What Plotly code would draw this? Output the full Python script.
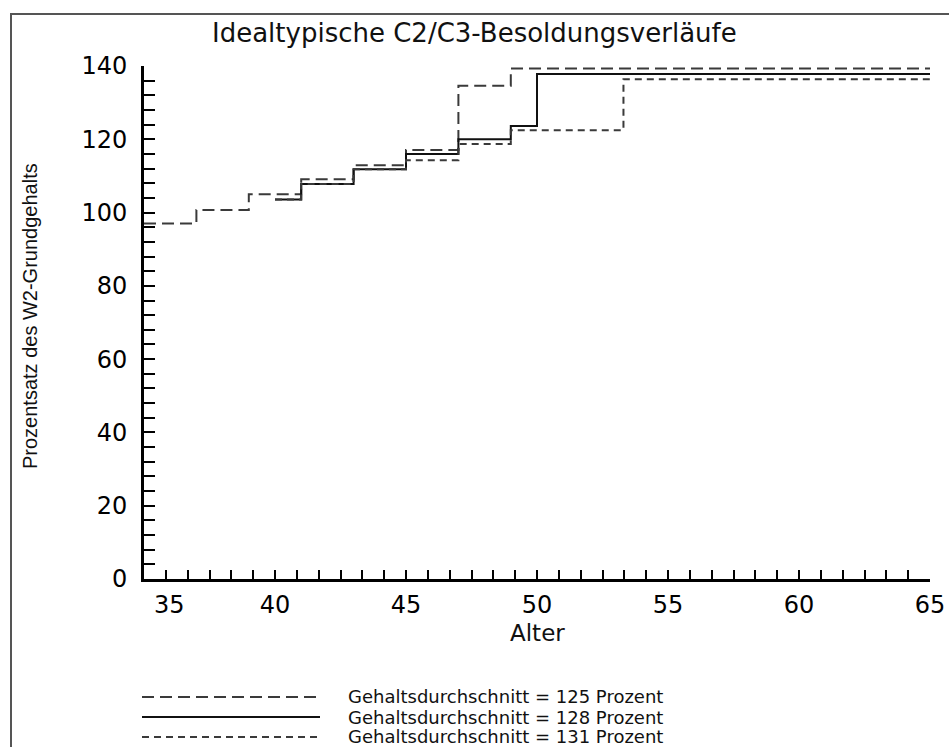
import plotly.graph_objects as go

# ---- data ----
age_125 = [35, 37, 39, 41, 43, 45, 47, 49, 65]
pct_125 = [97, 100.7, 105, 109.1, 112.9, 117.1, 134.6, 139.3, 139.3]

age_128 = [40, 41, 43, 45, 47, 49, 50, 65]
pct_128 = [103.6, 107.8, 111.8, 116, 120, 123.6, 137.8, 137.8]

age_131 = [40, 41, 43, 45, 47, 49, 53.3, 65]
pct_131 = [103.6, 107.8, 111.8, 114.3, 118.7, 122.5, 136.4, 136.4]

series_names = ["Gehaltsdurchschnitt = 125 Prozent",
                "Gehaltsdurchschnitt = 128 Prozent",
                "Gehaltsdurchschnitt = 131 Prozent"]
x_ticks = [35, 40, 45, 50, 55, 60, 65]
x_tick_labels = ["\u2003\u2003\u200a35", "40", "45", "50", "55", "60", "65"]
y_ticks = [0, 20, 40, 60, 80, 100, 120, 140]

title_text = "Idealtypische C2/C3-Besoldungsverläufe"
x_title = "Alter"
y_title = "Prozentsatz des W2-Grundgehalts"

# ---- layout geometry (pixels) ----
W, H = 949, 747
L, R, T, B = 144, 19, 66, 168
PW, PH = W - L - R, H - T - B


def px(xp):
    return (xp - L) / PW


def py(yp):
    return (H - B - yp) / PH


FONT = "DejaVu Sans, Liberation Sans, Arial, sans-serif"
styles = [
    dict(color="#3a3a3a", width=2, dash="12px,6px"),
    dict(color="#111111", width=2, dash="solid"),
    dict(color="#3a3a3a", width=2, dash="7px,5px"),
]

fig = go.Figure()
for xs, ys, name, st in zip([age_125, age_128, age_131],
                            [pct_125, pct_128, pct_131],
                            series_names, styles):
    fig.add_trace(go.Scatter(x=xs, y=ys, mode="lines", name=name,
                             line=dict(shape="hv", **st), showlegend=False))

fig.update_layout(
    width=W, height=H,
    margin=dict(l=L, r=R, t=T, b=B, pad=0, autoexpand=False),
    paper_bgcolor="white", plot_bgcolor="white",
    font=dict(family=FONT, color="black"),
)

fig.update_xaxes(
    range=[35, 65], tickvals=x_ticks, ticktext=x_tick_labels,
    automargin=False, showgrid=False, zeroline=False,
    showline=True, linecolor="black", linewidth=3,
    ticks="inside", ticklen=9, tickwidth=2, tickcolor="black",
    minor=dict(dtick=5 / 6, tick0=35, ticks="inside", ticklen=9,
               tickwidth=2, tickcolor="black", showgrid=False),
    tickfont=dict(size=24, family=FONT, color="black"),
    ticklabelstandoff=2,
)
fig.update_yaxes(
    range=[0, 140], tickvals=y_ticks, automargin=False,
    showgrid=False, zeroline=False,
    showline=True, linecolor="black", linewidth=3,
    ticks="inside", ticklen=11, tickwidth=2, tickcolor="black",
    minor=dict(dtick=4, tick0=0, ticks="inside", ticklen=11,
               tickwidth=2, tickcolor="black", showgrid=False),
    tickfont=dict(size=24, family=FONT, color="black"),
    ticklabelstandoff=9,
)

shapes = [
    # outer frame (extends past right/bottom edges like the reference crop)
    dict(type="rect", xref="paper", yref="paper",
         x0=px(11), x1=px(960), y0=py(760), y1=py(14),
         line=dict(color="#555555", width=2), fillcolor="rgba(0,0,0,0)",
         layer="below"),
]
annotations = [
    dict(text=title_text, x=px(474), y=py(33), xref="paper", yref="paper",
         showarrow=False, xanchor="center", yanchor="middle",
         font=dict(size=26, family=FONT, color="#111111")),
    dict(text=x_title, x=0.5, y=py(633), xref="paper", yref="paper",
         showarrow=False, xanchor="center", yanchor="middle",
         font=dict(size=23, family=FONT, color="#111111")),
    dict(text=y_title, x=px(30), y=py(316), xref="paper", yref="paper",
         showarrow=False, xanchor="center", yanchor="middle", textangle=-90,
         font=dict(size=20, family="Liberation Sans, Arial, sans-serif",
                   color="#111111")),
]

legend_rows = [697, 717, 737]
for name, st, yrow in zip(series_names, styles, legend_rows):
    shapes.append(dict(type="line", xref="paper", yref="paper",
                       x0=px(142), x1=px(320), y0=py(yrow), y1=py(yrow),
                       line=dict(color=st["color"], width=2, dash=st["dash"])))
    annotations.append(dict(text=name, x=px(346), y=py(yrow),
                            xref="paper", yref="paper", showarrow=False,
                            xanchor="left", yanchor="middle",
                            font=dict(size=18, family=FONT, color="#111111")))

fig.update_layout(shapes=shapes, annotations=annotations)
fig.write_html("out.html")
